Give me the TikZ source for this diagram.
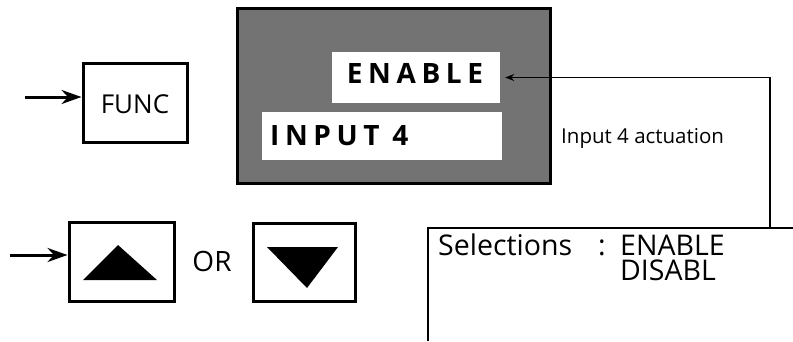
\documentclass[tikz,border=0pt]{standalone}
\usepackage{fontspec}
\setmainfont{Open Sans}
\newfontfamily\spacedbold[LetterSpace=20]{Open Sans Bold}
\usetikzlibrary{arrows.meta}
\begin{document}
\begin{tikzpicture}[x=1pt,y=-1pt,
  keybox/.style={draw=black,line width=3pt,fill=white,inner sep=0pt},
  whitebox/.style={fill=white,draw=none,inner sep=0pt},
  inarrow/.style={line width=3pt,-{Stealth[length=20pt,width=14pt]}},
  lcdtext/.style={font=\spacedbold\fontsize{28}{28}\selectfont,inner sep=0pt},
  plain/.style={inner sep=0pt},
  seltext/.style={inner sep=0pt,anchor=base west,font=\fontsize{28.5}{25}\selectfont}]
\useasboundingbox (0,0) rectangle (793,341);
% FUNC key
\node[keybox,minimum width=104pt,minimum height=79pt] (func) at (135,102.5) {};
\node[plain,font=\fontsize{26}{26}\selectfont] (functxt) at (135,104) {FUNC};
\coordinate (a1) at (25,97);
\draw[inarrow] (a1) -- (func.west |- a1);
% display
\node[draw=black,line width=3pt,fill=black!55,minimum width=313pt,minimum height=175pt,inner sep=0pt] (disp) at (393.5,95.5) {};
\node[whitebox,minimum width=168pt,minimum height=51pt] (en) at (416,77.5) {};
\node[whitebox,minimum width=240pt,minimum height=48pt] (inp) at (382,136) {};
\node[lcdtext,anchor=base] (entxt) at (415,83) {ENABLE};
\node[lcdtext,anchor=base west] (inptxt) at (270,145) {INPUT 4};
% up / down keys
\node[keybox,minimum width=105pt,minimum height=79pt] (up) at (121.5,262) {};
\node[keybox,minimum width=102pt,minimum height=78pt] (down) at (304,262) {};
\fill (83,280) -- (118,245) -- (157,280) -- cycle;
\fill (267,247) -- (338,247) -- (307,288) -- cycle;
\coordinate (a2) at (10,255);
\draw[inarrow] (a2) -- (up.west |- a2);
\node[plain,font=\fontsize{28}{28}\selectfont] (or) at (212,261) {OR};
% selections box
\coordinate (selA) at (428,341);
\coordinate (selB) at (428,228);
\coordinate (selC) at (793,228);
\draw[line width=2.5pt] (selA) -- (selB) -- (selC);
\node[seltext] (sel) at (438,255) {Selections};
\node[seltext] (colon) at (598,255) {:};
\node[seltext,align=left] (s1) at (620,280) {ENABLE\\DISABL};
% connector
\coordinate (tap) at (770,228);
\draw[line width=1.2pt,-{Stealth[length=9pt,width=7pt]}] (tap) |- ([xshift=5pt]en.east);
\node[plain,anchor=base west,font=\fontsize{20.5}{20.5}\selectfont] (act) at (561,143) {Input 4 actuation};
\end{tikzpicture}
\end{document}
